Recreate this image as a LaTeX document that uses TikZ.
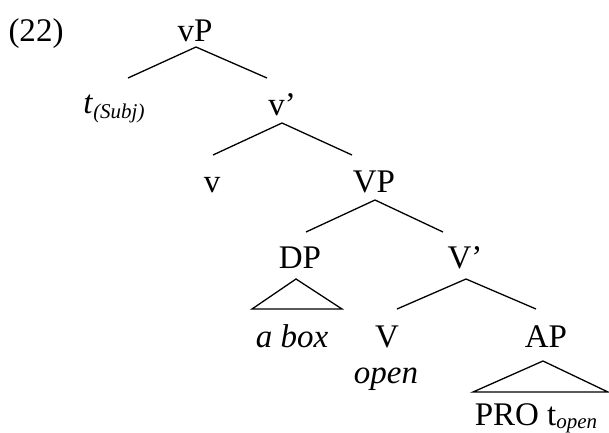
\documentclass[tikz,border=0pt]{standalone}
\usepackage{fontspec}
\setmainfont{Liberation Serif}
\newcommand{\subsz}{\fontsize{21}{21}\selectfont}
\begin{document}
\begin{tikzpicture}[x=1pt,y=-1pt,
  lbl/.style={anchor=base,inner sep=0pt,font=\fontsize{33}{38}\selectfont},
  edge/.style={line width=1.3pt}]
\useasboundingbox (0,0) rectangle (609,432);
% labels
\node[lbl] (num) at (36,41) {(22)};
\node[lbl] (vP) at (195,41) {vP};
\node[lbl] (tsubj) at (114,113) {\textit{t}\raisebox{-5pt}{\subsz\itshape(Subj)}};
\node[lbl] (vbar) at (282,115) {v’};
\node[lbl] (v) at (212,192) {v};
\node[lbl] (VP) at (374,192) {VP};
\node[lbl] (DP) at (300,268) {DP};
\node[lbl] (Vbar) at (465,268) {V’};
\node[lbl] (abox) at (292,347) {\itshape a box};
\node[lbl] (V) at (387,347) {V};
\node[lbl] (open) at (386,383) {\itshape open};
\node[lbl] (AP) at (546,347) {AP};
\node[lbl] (pro) at (536,425) {PRO t\raisebox{-3pt}{\subsz\itshape open}};
% branch points
\coordinate (vPa) at (196,47);
\coordinate (vPl) at (128,78);
\coordinate (vPr) at (267,78);
\coordinate (vba) at (282,123);
\coordinate (vbl) at (213,155);
\coordinate (vbr) at (352,155);
\coordinate (VPa) at (375,200);
\coordinate (VPl) at (306,232);
\coordinate (VPr) at (443,232);
\coordinate (DPa) at (296,279);
\coordinate (DPl) at (252,309);
\coordinate (DPr) at (342,309);
\coordinate (Vba) at (466,279);
\coordinate (Vbl) at (397,309);
\coordinate (Vbr) at (536,309);
\coordinate (APa) at (543,361);
\coordinate (APl) at (473,392);
\coordinate (APr) at (608,392);
% edges
\draw[edge] (vPl) -- (vPa) -- (vPr);
\draw[edge] (vbl) -- (vba) -- (vbr);
\draw[edge] (VPl) -- (VPa) -- (VPr);
\draw[edge,line join=miter] (DPa) -- (DPl) -- (DPr) -- cycle;
\draw[edge] (Vbl) -- (Vba) -- (Vbr);
\draw[edge,line join=miter] (APa) -- (APl) -- (APr) -- cycle;
\end{tikzpicture}
\end{document}
